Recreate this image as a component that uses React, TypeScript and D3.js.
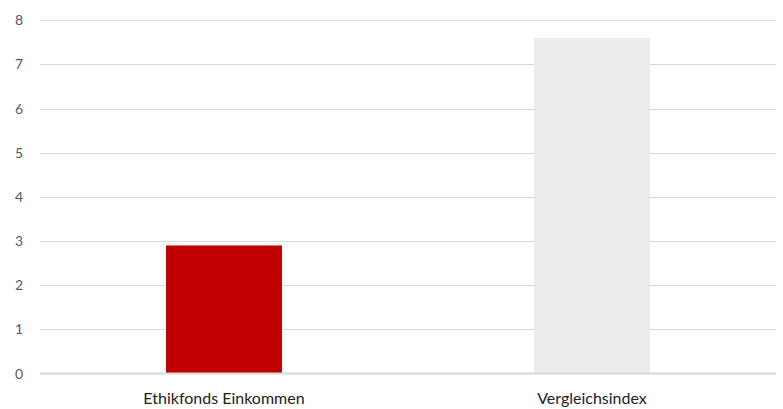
import { useEffect, useRef } from 'react';
import * as d3 from 'd3';

const categories = ['Ethikfonds Einkommen', 'Vergleichsindex'];
const values = [2.9, 7.6];
const barColors = ['#c00000', '#ececec'];
const yTicks = [0, 1, 2, 3, 4, 5, 6, 7, 8];

const WIDTH = 783;
const HEIGHT = 409;
const FONT = 'Lato, "Open Sans", sans-serif';

export default function App() {
  const svgRef = useRef<SVGSVGElement>(null);

  useEffect(() => {
    const svg = d3.select(svgRef.current);
    if (!svg.node()) return;
    svg.selectAll('*').remove();

    const margin = { top: 20.3, right: 7, bottom: 35.5, left: 40 };

    const x = d3
      .scaleBand<string>()
      .domain(categories)
      .range([margin.left, WIDTH - margin.right])
      .paddingInner(0.685)
      .paddingOuter(0.3425);

    const y = d3
      .scaleLinear()
      .domain([0, 8])
      .range([HEIGHT - margin.bottom, margin.top]);

    // gridlines
    svg
      .append('g')
      .selectAll('line')
      .data(yTicks.filter((t) => t > 0))
      .join('line')
      .attr('x1', margin.left)
      .attr('x2', WIDTH - margin.right)
      .attr('y1', (d) => Math.round(y(d)) + 0.5)
      .attr('y2', (d) => Math.round(y(d)) + 0.5)
      .attr('stroke', '#d9d9d9')
      .attr('stroke-width', 1);

    // bars
    svg
      .append('g')
      .selectAll('rect')
      .data(values)
      .join('rect')
      .attr('x', (_, i) => x(categories[i])!)
      .attr('y', (d) => y(d))
      .attr('width', x.bandwidth())
      .attr('height', (d) => y(0) - y(d))
      .attr('fill', (_, i) => barColors[i]);

    // baseline
    svg
      .append('line')
      .attr('x1', margin.left)
      .attr('x2', WIDTH - margin.right)
      .attr('y1', y(0))
      .attr('y2', y(0))
      .attr('stroke', '#d9d9d9')
      .attr('stroke-width', 2);

    // y tick labels
    svg
      .append('g')
      .selectAll('text')
      .data(yTicks)
      .join('text')
      .attr('x', 23)
      .attr('y', (d) => y(d))
      .attr('dy', '0.36em')
      .attr('text-anchor', 'end')
      .attr('font-family', FONT)
      .attr('font-size', 14)
      .attr('fill', '#595959')
      .text((d) => d);

    // category labels
    svg
      .append('g')
      .selectAll('text')
      .data(categories)
      .join('text')
      .attr('x', (d) => x(d)! + x.bandwidth() / 2)
      .attr('y', 404)
      .attr('text-anchor', 'middle')
      .attr('font-family', FONT)
      .attr('font-size', 16)
      .attr('fill', '#222222')
      .text((d) => d);
  }, []);

  return (
    <svg
      ref={svgRef}
      width={WIDTH}
      height={HEIGHT}
      style={{ position: 'absolute', left: 0, top: 0, background: '#fff' }}
    />
  );
}
